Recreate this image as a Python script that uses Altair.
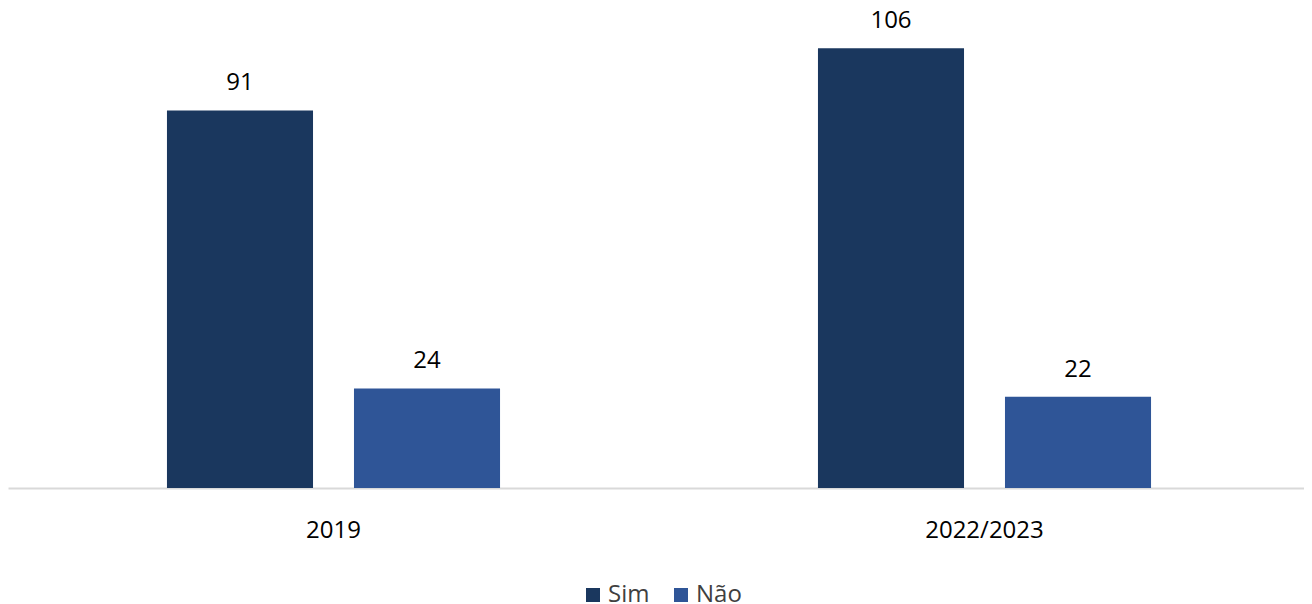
import altair as alt
import pandas as pd

periods = ["2019", "2019", "2022/2023", "2022/2023"]
answers = ["Sim", "Não", "Sim", "Não"]
values = [91, 24, 106, 22]

df = pd.DataFrame({"periodo": periods, "resposta": answers, "valor": values})

FONT = "Open Sans"

base = alt.Chart(df).encode(
    x=alt.X("periodo:N", sort=["2019", "2022/2023"],
            scale=alt.Scale(paddingInner=0, paddingOuter=0, range=[0, 1302]),
            axis=alt.Axis(title=None, labelAngle=0, ticks=False, labelPadding=30,
                          labelFontSize=24, labelFont=FONT, labelColor="#000000",
                          domainColor="#d9d9d9", domainWidth=2, grid=False)),
    xOffset=alt.XOffset("resposta:N", sort=["Sim", "Não"],
                        scale=alt.Scale(paddingInner=0.219, paddingOuter=0.85)),
    y=alt.Y("valor:Q", scale=alt.Scale(domain=[0, 115.7], nice=False, zero=True),
            axis=None),
)

bars = base.mark_bar().encode(
    color=alt.Color("resposta:N", sort=["Sim", "Não"],
                    scale=alt.Scale(domain=["Sim", "Não"], range=["#1a375e", "#2f5597"]),
                    legend=alt.Legend(title=None, orient="none", direction="horizontal",
                                      legendX=573, legendY=575,
                                      symbolType="square", symbolSize=196, symbolStrokeWidth=0,
                                      labelFontSize=24, labelFont=FONT, labelColor="#404040",
                                      labelOffset=3, columnPadding=19, padding=0))
)

labels = base.mark_text(baseline="alphabetic", dy=-20, fontSize=24, font=FONT,
                        color="#000000").encode(text="valor:Q")

chart = (bars + labels).properties(
    width=1296, height=480,
    autosize=alt.AutoSizeParams(type="none"),
    padding={"left": 0, "top": 0, "right": 0, "bottom": 116},
).configure(background="white").configure_view(stroke=None)

chart.save("out.html", embed_options={"renderer": "svg", "actions": False})
